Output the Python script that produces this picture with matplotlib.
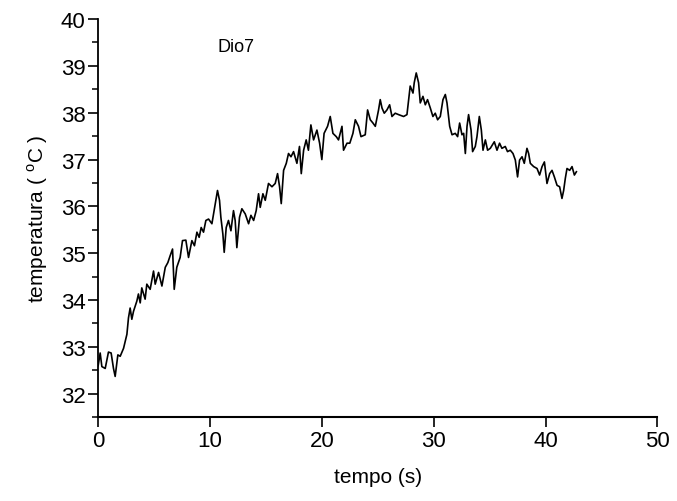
import matplotlib
matplotlib.use("Agg")
import matplotlib.pyplot as plt
from matplotlib.ticker import MultipleLocator

plt.rcParams['font.family'] = ['Liberation Sans', 'DejaVu Sans']
plt.rcParams['mathtext.fontset'] = 'custom'
plt.rcParams['mathtext.rm'] = 'Liberation Sans'

# tempo (s) and temperatura (C)
tempo = [0.0, 0.18, 0.33, 0.63, 0.92, 1.16, 1.37, 1.52, 1.76, 1.97, 2.27, 2.57,
         2.71, 2.86, 3.01, 3.16, 3.46, 3.6, 3.76, 3.9, 4.2, 4.35, 4.65, 4.95,
         5.1, 5.4, 5.7, 6.0, 6.23, 6.44, 6.65, 6.8, 7.03, 7.33, 7.54, 7.84,
         8.08, 8.38, 8.61, 8.83, 9.03, 9.21, 9.42, 9.63, 9.87, 10.17, 10.47,
         10.67, 10.85, 10.97, 11.15, 11.27, 11.45, 11.65, 11.87, 12.1, 12.25,
         12.4, 12.64, 12.85, 13.15, 13.45, 13.66, 13.9, 14.13, 14.34, 14.49,
         14.73, 14.94, 15.23, 15.54, 15.83, 16.04, 16.22, 16.37, 16.58, 16.82,
         17.02, 17.24, 17.47, 17.77, 18.0, 18.16, 18.37, 18.6, 18.8, 19.02,
         19.26, 19.56, 19.8, 20.0, 20.2, 20.51, 20.75, 20.99, 21.29, 21.49,
         21.8, 21.94, 22.25, 22.5, 22.78, 22.99, 23.28, 23.5, 23.88, 24.09,
         24.33, 24.57, 24.78, 25.07, 25.22, 25.38, 25.58, 25.82, 26.06, 26.27,
         26.56, 26.86, 27.31, 27.61, 27.76, 27.9, 28.15, 28.26, 28.44, 28.65,
         28.8, 29.04, 29.25, 29.45, 29.7, 29.93, 30.14, 30.35, 30.59, 30.83,
         31.04, 31.19, 31.43, 31.64, 31.93, 32.14, 32.32, 32.53, 32.68, 32.83,
         32.98, 33.12, 33.34, 33.48, 33.72, 33.87, 34.08, 34.26, 34.41, 34.62,
         34.82, 35.06, 35.42, 35.66, 35.89, 36.1, 36.4, 36.6, 36.85, 37.09,
         37.3, 37.5, 37.68, 37.9, 38.1, 38.34, 38.49, 38.64, 38.94, 39.24,
         39.47, 39.69, 39.9, 40.13, 40.37, 40.58, 40.79, 41.03, 41.26, 41.47,
         41.62, 41.77, 41.92, 42.16, 42.37, 42.58, 42.76]
temperatura = [32.6, 32.87, 32.58, 32.54, 32.89, 32.87, 32.54, 32.37, 32.83,
               32.8, 32.97, 33.27, 33.62, 33.83, 33.59, 33.76, 33.98, 34.13,
               33.94, 34.26, 34.02, 34.34, 34.23, 34.62, 34.34, 34.59, 34.3,
               34.7, 34.8, 34.95, 35.09, 34.23, 34.7, 34.91, 35.27, 35.28,
               34.91, 35.27, 35.16, 35.45, 35.34, 35.55, 35.45, 35.7, 35.73,
               35.63, 36.06, 36.34, 36.13, 35.77, 35.41, 35.02, 35.55, 35.7,
               35.48, 35.91, 35.7, 35.12, 35.77, 35.95, 35.84, 35.63, 35.81,
               35.7, 35.91, 36.27, 35.98, 36.27, 36.13, 36.49, 36.42, 36.49,
               36.7, 36.42, 36.06, 36.77, 36.92, 37.13, 37.06, 37.17, 36.92,
               37.28, 36.7, 37.2, 37.42, 37.2, 37.74, 37.42, 37.63, 37.35,
               37.0, 37.56, 37.71, 37.92, 37.56, 37.49, 37.42, 37.71, 37.2,
               37.35, 37.35, 37.56, 37.85, 37.71, 37.49, 37.53, 38.06, 37.85,
               37.78, 37.71, 38.06, 38.28, 38.1, 37.99, 38.06, 38.17, 37.92,
               37.99, 37.96, 37.92, 37.96, 38.28, 38.57, 38.42, 38.64, 38.85,
               38.64, 38.21, 38.35, 38.17, 38.28, 38.1, 37.92, 37.99, 37.85,
               37.92, 38.28, 38.39, 38.21, 37.71, 37.53, 37.56, 37.49, 37.78,
               37.53, 37.56, 37.13, 37.71, 37.96, 37.63, 37.17, 37.28, 37.49,
               37.92, 37.63, 37.2, 37.42, 37.2, 37.24, 37.38, 37.2, 37.35,
               37.24, 37.28, 37.17, 37.2, 37.13, 36.99, 36.63, 36.99, 37.06,
               36.92, 37.24, 37.13, 36.92, 36.85, 36.81, 36.67, 36.85, 36.95,
               36.49, 36.7, 36.77, 36.63, 36.45, 36.42, 36.17, 36.34, 36.6,
               36.81, 36.77, 36.85, 36.67, 36.74]

fig = plt.figure(figsize=(6.77, 5.02), dpi=100)
ax = fig.add_axes([0.145, 0.167, 0.826, 0.793])

ax.plot(tempo, temperatura, color='black', lw=1.2)

ax.set_xlim(0, 50)
ax.set_ylim(31.5, 40)
ax.xaxis.set_major_locator(MultipleLocator(10))
ax.yaxis.set_major_locator(MultipleLocator(1))
ax.yaxis.set_minor_locator(MultipleLocator(0.5))

for s in ['top', 'right']:
    ax.spines[s].set_visible(False)
ax.spines['left'].set_linewidth(1.3)
ax.spines['bottom'].set_linewidth(1.5)

ax.tick_params(axis='both', which='major', direction='out', length=7, width=1.2,
               labelsize=16, pad=2)
ax.tick_params(axis='y', which='minor', direction='out', length=4, width=1.1)

ax.set_xlabel('tempo (s)', fontsize=15, labelpad=12)
ax.set_ylabel(r'temperatura ( $^{\mathrm{o}}$C )', fontsize=15, labelpad=8)

ax.text(10.7, 39.42, 'Dio7', fontsize=13, ha='left', va='center')

fig.savefig('out.png', dpi=100)
